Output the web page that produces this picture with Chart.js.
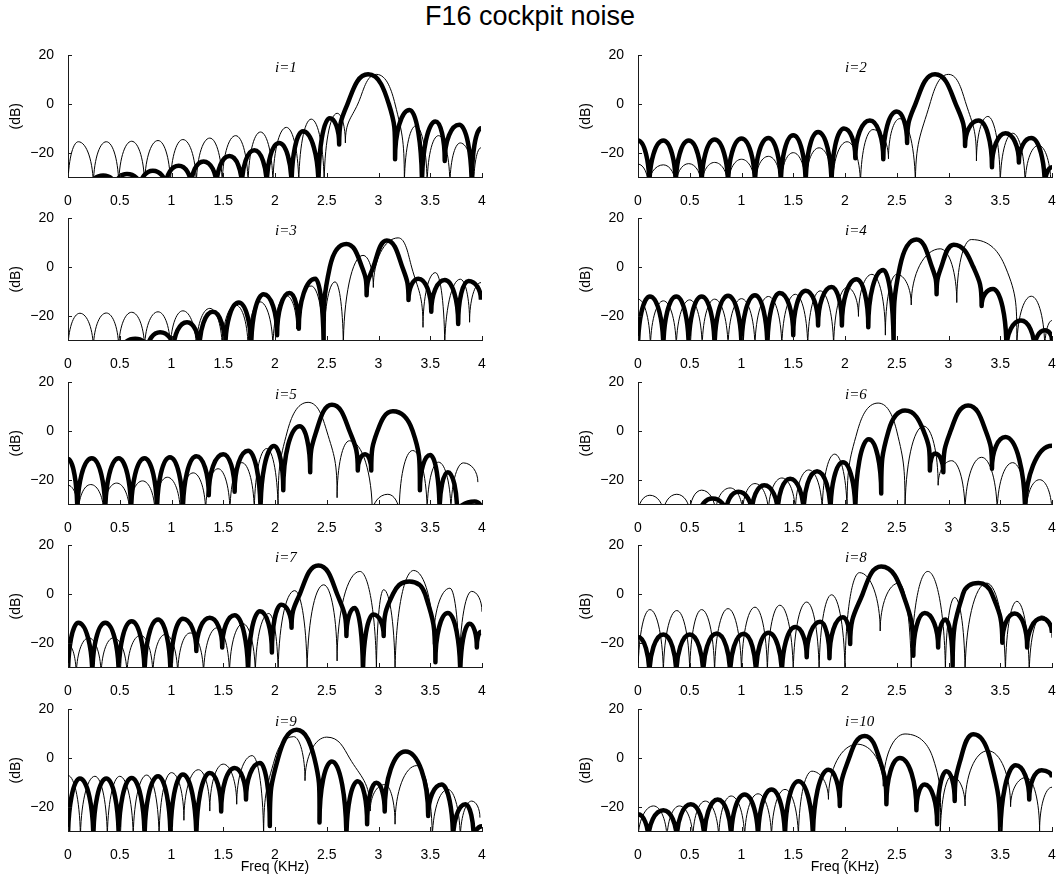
<!DOCTYPE html>
<html><head><meta charset="utf-8">
<script src="https://cdn.jsdelivr.net/npm/chart.js@4.4.1/dist/chart.umd.min.js"></script>
<style>
html,body{margin:0;padding:0;background:#fff;}
body{width:1060px;height:879px;position:relative;overflow:hidden;font-family:"Liberation Sans",Arial,Helvetica,sans-serif;}
#title{position:absolute;left:0;width:1060px;top:1px;text-align:center;font-size:27px;line-height:31px;color:#000;}
canvas{position:absolute;}
</style></head><body>
<div id="title">F16 cockpit noise</div>
<script>
// ---------- data (frequency in kHz, level in dB) ----------
const X_TICKS = [0, 0.5, 1, 1.5, 2, 2.5, 3, 3.5, 4];
const Y_TICKS = [-20, 0, 20];
const PANEL_LABELS = ['i=1','i=2','i=3','i=4','i=5','i=6','i=7','i=8','i=9','i=10'];

const thin1 = [[0,-34],[0.10,-15.5],[0.245,-34],[0.37,-15.5],[0.49,-34],[0.615,-15.3],[0.74,-34],[0.87,-15],[0.99,-34],[1.11,-14.6],[1.24,-34],[1.37,-14],[1.49,-34],[1.62,-13],[1.74,-34],[1.86,-11.5],[1.98,-34],[2.11,-9.6],[2.23,-34],[2.35,-6.2],[2.475,-34],[2.60,-3.8],[2.68,-16],[2.80,0],[2.98,12.2],[3.16,0],[3.25,-34],[3.36,-9],[3.47,-34],[3.58,-13],[3.69,-34],[3.79,-16],[3.92,-34],[3.99,-18]];
const thick1 = [[0.22,-34],[0.34,-29.4],[0.46,-34],[0.57,-28.8],[0.70,-34],[0.82,-27.4],[0.945,-34],[1.07,-25.4],[1.19,-34],[1.31,-23.6],[1.435,-34],[1.56,-21.4],[1.68,-34],[1.80,-19],[1.92,-34],[2.04,-16],[2.16,-34],[2.27,-11.2],[2.42,-34],[2.53,-5.8],[2.62,-16.6],[2.70,0],[2.90,12.2],[3.10,0],[3.16,-22.7],[3.30,-2.4],[3.42,-34],[3.55,-7.2],[3.64,-23.4],[3.78,-8.5],[3.90,-34],[3.99,-10]];

const thin2 = [[0,-24.7],[0.1,-34],[0.245,-25],[0.365,-34],[0.49,-24.5],[0.615,-34],[0.74,-24],[0.87,-34],[1.0,-22.7],[1.13,-34],[1.26,-21.5],[1.38,-34],[1.50,-20],[1.62,-34],[1.75,-18],[1.88,-34],[2.02,-15.5],[2.15,-34],[2.27,-10.5],[2.42,-22.5],[2.53,-6],[2.68,-34],[2.82,0],[3.0,12.2],[3.17,0],[3.27,-23.4],[3.38,-5.1],[3.50,-34],[3.62,-12],[3.74,-34],[3.87,-17],[3.99,-34]];
const thick2 = [[0,-15],[0.11,-34],[0.245,-15],[0.365,-34],[0.49,-15],[0.615,-34],[0.74,-14.6],[0.87,-34],[1.0,-14.2],[1.13,-34],[1.26,-14],[1.38,-34],[1.50,-12.8],[1.62,-34],[1.74,-11.5],[1.87,-34],[1.99,-10.1],[2.10,-22.3],[2.24,-6.8],[2.37,-22.7],[2.50,-3.1],[2.60,-16],[2.68,0],[2.87,12.2],[3.07,0],[3.16,-17.3],[3.29,-6.8],[3.42,-26],[3.55,-12],[3.68,-24],[3.80,-14],[3.93,-34],[4.0,-26]];

const thin3 = [[0,-34],[0.115,-19],[0.245,-34],[0.37,-18.9],[0.49,-34],[0.615,-18.6],[0.74,-34],[0.87,-18.4],[0.99,-34],[1.11,-18],[1.24,-34],[1.37,-17],[1.49,-34],[1.62,-15.6],[1.74,-34],[1.855,-14.3],[1.98,-34],[2.11,-11.8],[2.21,-25.4],[2.35,-7.8],[2.47,-34],[2.58,-6.1],[2.66,-34],[2.85,4.8],[2.95,-8.4],[3.19,12],[3.32,0],[3.43,-24.8],[3.55,-2.3],[3.64,-34],[3.79,-5],[3.88,-22.7],[3.99,-6.4]];
const thick3 = [[0.52,-34],[0.65,-29.5],[0.77,-34],[0.89,-26.8],[1.02,-34],[1.15,-22.7],[1.27,-34],[1.40,-18.4],[1.52,-34],[1.65,-14.6],[1.77,-34],[1.89,-11.2],[2.02,-28],[2.14,-10.7],[2.23,-25.4],[2.39,-4.8],[2.47,-34],[2.53,0],[2.69,9.5],[2.84,0],[2.885,-11.6],[2.95,0],[3.08,10.9],[3.23,0],[3.29,-13.6],[3.385,-4.8],[3.51,-18.4],[3.64,-5.3],[3.77,-23.4],[3.87,-5.7],[3.99,-13.5]];

const thin4 = [[0,-13.2],[0.12,-34],[0.245,-13.9],[0.37,-34],[0.5,-13.5],[0.62,-34],[0.74,-13.2],[0.87,-34],[1.0,-13],[1.13,-34],[1.26,-12.1],[1.39,-34],[1.52,-11.2],[1.64,-34],[1.76,-9.8],[1.89,-34],[2.02,-8.4],[2.13,-20.3],[2.26,-3],[2.39,-28],[2.50,-3],[2.64,-15.6],[2.92,7.5],[3.08,-14.6],[3.22,11.3],[3.55,0],[3.66,-34],[3.80,-12],[3.93,-34],[4.0,-22]];
const thick4 = [[0,-34],[0.115,-12.1],[0.245,-34],[0.37,-12.1],[0.49,-34],[0.615,-12.1],[0.74,-34],[0.87,-11.8],[1.0,-34],[1.13,-11.6],[1.25,-34],[1.37,-10.7],[1.50,-28],[1.62,-9.8],[1.74,-24],[1.87,-8.2],[1.97,-24],[2.11,-5],[2.225,-24.8],[2.37,-1.2],[2.47,-34],[2.53,0],[2.69,11.3],[2.84,0],[2.885,-11.2],[2.93,0],[3.05,9.2],[3.24,0],[3.32,-16],[3.43,-9],[3.56,-34],[3.70,-22],[3.83,-34],[3.93,-26],[4.0,-30]];

const thin5 = [[0,-22.3],[0.1,-34],[0.22,-22],[0.345,-34],[0.47,-21.4],[0.595,-34],[0.72,-20.5],[0.84,-34],[0.96,-19],[1.085,-34],[1.21,-17.2],[1.33,-34],[1.45,-15.5],[1.565,-34],[1.68,-13],[1.80,-34],[1.92,-7.2],[2.03,-34],[2.12,0],[2.32,11.8],[2.50,0],[2.60,-27.4],[2.72,-4],[2.94,-34],[3.09,-26],[3.20,-34],[3.33,-8],[3.47,-34],[3.58,-12.8],[3.70,-34],[3.82,-13.1],[3.96,-21]];
const thick5 = [[0,-11.5],[0.09,-34],[0.23,-11.2],[0.36,-34],[0.49,-11.2],[0.61,-34],[0.74,-11.2],[0.86,-34],[0.985,-10.8],[1.11,-34],[1.24,-10.4],[1.36,-26.4],[1.50,-9.5],[1.61,-25],[1.74,-8.1],[1.86,-34],[1.99,-6.2],[2.08,-24.3],[2.24,2],[2.34,-16.9],[2.40,0],[2.55,10.8],[2.72,0],[2.80,-16.2],[2.87,-9.5],[2.93,-16.2],[2.99,0],[3.14,8.1],[3.33,0],[3.40,-24.3],[3.50,-9.9],[3.59,-34],[3.67,-16.9],[3.76,-34],[3.93,-29],[4.0,-33]];

const thin6 = [[0,-34],[0.115,-26.4],[0.245,-34],[0.375,-26],[0.50,-34],[0.615,-24.3],[0.75,-34],[0.89,-23.4],[1.01,-34],[1.13,-21.6],[1.26,-34],[1.39,-19.3],[1.52,-34],[1.65,-16],[1.78,-34],[1.90,-9.5],[2.02,-34],[2.12,0],[2.32,11.5],[2.50,0],[2.58,-34],[2.76,2],[2.90,-22.3],[3.03,-12.2],[3.16,-34],[3.32,-10.8],[3.47,-34],[3.62,-13],[3.75,-34],[3.88,-20],[4.0,-34]];
const thick6 = [[0.6,-34],[0.72,-27.7],[0.85,-34],[0.97,-25],[1.10,-34],[1.22,-22.3],[1.35,-34],[1.47,-19.6],[1.60,-34],[1.73,-16.5],[1.86,-34],[1.98,-12.8],[2.10,-34],[2.23,-3.4],[2.35,-25.7],[2.42,0],[2.58,8.4],[2.76,0],[2.82,-16.2],[2.87,-9.2],[2.95,-16.9],[3.02,0],[3.19,10.5],[3.36,0],[3.42,-15.5],[3.55,-2.5],[3.74,-34],[4.0,-6]];

const thin7 = [[0,-20.7],[0.08,-34],[0.2,-18],[0.32,-34],[0.44,-18],[0.57,-34],[0.70,-17],[0.82,-34],[0.94,-16.6],[1.06,-34],[1.18,-16],[1.31,-34],[1.44,-13.9],[1.56,-34],[1.69,-12.2],[1.81,-34],[1.94,-8],[2.03,-34],[2.19,1.4],[2.31,-34],[2.47,3.8],[2.60,-27.5],[2.82,9.3],[2.98,-34],[3.05,1.8],[3.16,-34],[3.34,9.7],[3.53,-20.7],[3.69,2.4],[3.78,-34],[3.90,1.1],[4.0,-7.3]];
const thick7 = [[0,-34],[0.10,-11.8],[0.235,-34],[0.36,-11.8],[0.49,-34],[0.615,-11.2],[0.74,-34],[0.87,-10.5],[0.99,-34],[1.11,-10.2],[1.24,-23.4],[1.37,-9.8],[1.49,-22],[1.61,-8.7],[1.74,-34],[1.855,-7.1],[1.97,-24],[2.06,-4.4],[2.16,-13.9],[2.24,0],[2.42,11.7],[2.60,0],[2.69,-17.3],[2.77,-5.7],[2.85,-34],[2.95,-8.4],[3.05,-17.3],[3.14,0],[3.30,5.2],[3.45,0],[3.55,-28],[3.67,-7.8],[3.79,-34],[3.88,-12.2],[3.95,-22],[3.99,-15.5]];

const thin8 = [[0,-34],[0.115,-6.4],[0.245,-34],[0.375,-6.8],[0.50,-34],[0.615,-6.4],[0.74,-34],[0.87,-6],[1.0,-34],[1.13,-5.4],[1.25,-34],[1.37,-4.6],[1.50,-34],[1.63,-3.3],[1.75,-34],[1.87,-0.3],[2.0,-34],[2.14,8.8],[2.34,-15.2],[2.52,4.5],[2.64,-34],[2.80,9.3],[2.97,-34],[3.06,-1.4],[3.16,-34],[3.37,4.5],[3.55,-34],[3.66,-3],[3.78,-34],[3.90,-9],[4.0,-18]];
const thick8 = [[0,-17.7],[0.11,-34],[0.245,-16.6],[0.37,-34],[0.5,-16.6],[0.63,-34],[0.76,-16.2],[0.89,-34],[1.02,-16.3],[1.14,-34],[1.26,-15.9],[1.39,-34],[1.52,-13.6],[1.63,-26],[1.76,-11.4],[1.85,-26.4],[1.98,-9.5],[2.05,-20.5],[2.17,0],[2.35,11.3],[2.56,0],[2.66,-25.4],[2.77,-7.8],[2.90,-22],[2.97,-10.5],[3.04,-29.5],[3.14,0],[3.29,4.5],[3.42,0],[3.52,-20],[3.64,-8],[3.76,-22],[3.90,-10],[4.0,-16]];

const thin9 = [[0,-7.2],[0.12,-34],[0.26,-7.5],[0.38,-34],[0.50,-7.5],[0.63,-34],[0.76,-7],[0.88,-34],[1.0,-6],[1.12,-25.6],[1.26,-4.8],[1.37,-21.8],[1.50,-2.5],[1.63,-19],[1.78,1.0],[1.89,-34],[2.0,0],[2.18,8.8],[2.29,-9.3],[2.50,8.6],[2.72,0],[2.92,-21.8],[3.06,-10.9],[3.16,-27.2],[3.37,-3.1],[3.52,-34],[3.67,-12.9],[3.79,-34],[3.90,-17.7],[3.98,-24.5]];
const thick9 = [[0,-34],[0.115,-8.4],[0.245,-34],[0.37,-8.4],[0.49,-34],[0.615,-8.2],[0.74,-34],[0.87,-7.5],[0.99,-34],[1.11,-6.8],[1.24,-34],[1.37,-6.1],[1.48,-22],[1.61,-4.1],[1.72,-17],[1.855,-2],[1.95,-27.9],[2.03,0],[2.21,11.6],[2.38,0],[2.43,-26.5],[2.55,-1.4],[2.69,-34],[2.80,-9.5],[2.89,-27.2],[2.98,-10.2],[3.06,-22],[3.26,2.7],[3.48,-23.8],[3.61,-10.9],[3.72,-34],[3.84,-19],[3.92,-34],[4.0,-28]];

const thin10 = [[0,-34],[0.15,-19.7],[0.28,-34],[0.40,-19.7],[0.53,-34],[0.65,-17.7],[0.78,-34],[0.90,-15.6],[1.03,-34],[1.16,-14.7],[1.29,-34],[1.42,-12.9],[1.55,-34],[1.68,-5.4],[1.84,-17],[2.12,5.7],[2.37,-11.6],[2.58,9.9],[2.85,0],[2.92,-34],[3.03,-7.5],[3.16,-19.7],[3.38,3],[3.60,-20],[3.75,-8],[3.88,-30],[4.0,-12]];
const thick10 = [[0,-23.1],[0.1,-34],[0.245,-21.5],[0.375,-34],[0.51,-19],[0.64,-34],[0.77,-17],[0.90,-34],[1.03,-15],[1.16,-34],[1.29,-12.9],[1.42,-34],[1.55,-9.5],[1.69,-34],[1.84,-4.8],[1.95,-19.7],[2.04,0],[2.19,9.1],[2.33,0],[2.40,-19],[2.53,0],[2.69,-21.5],[2.77,-10.9],[2.89,-27.2],[2.98,-5.4],[3.06,-17.7],[3.12,0],[3.24,9.8],[3.40,0],[3.50,-34],[3.65,-3],[3.78,-17],[3.90,-5],[4.0,-8]];

const THIN = [thin1,thin2,thin3,thin4,thin5,thin6,thin7,thin8,thin9,thin10];
const THICK = [thick1,thick2,thick3,thick4,thick5,thick6,thick7,thick8,thick9,thick10];

// ---------- layout ----------
const COL_LEFT = [68, 638];
const ROW_TOP = [53, 216, 380, 543, 707];
const PLOT_W = 414, PLOT_H = 124;
const Y_AXIS_W = 64, PAD_TOP = 12, PAD_RIGHT = 14;
const FONT = '"Liberation Sans", Arial, Helvetica, sans-serif';
const AXIS = '#1a1a1a';
const K = 0.552; // quarter-ellipse handle ratio for the lobe arches

function toPoints(arr) { return arr.map(p => ({x: p[0], y: p[1]})); }

// Lobe shaping: vertical tangents at nulls (sharp cusps), horizontal tangents at peaks.
function shapeLobes(points) {
  const n = points.length;
  for (let i = 0; i < n; i++) {
    const p = points[i], a = points[i - 1], b = points[i + 1];
    if (!p || p.skip) continue;
    const low = (!a || p.y > a.y) && (!b || p.y > b.y) && (a || b);
    const high = (!a || p.y < a.y) && (!b || p.y < b.y) && (a || b);
    if (low) {
      if (a) { p.cp1x = p.x; p.cp1y = p.y - K * (p.y - a.y); }
      if (b) { p.cp2x = p.x; p.cp2y = p.y - K * (p.y - b.y); }
    } else if (high) {
      if (a) { p.cp1x = p.x - K * (p.x - a.x); p.cp1y = p.y; }
      if (b) { p.cp2x = p.x + K * (b.x - p.x); p.cp2y = p.y; }
    }
  }
}

const lobeShape = {
  id: 'lobeShape',
  beforeDatasetDraw(chart, args) {
    const el = args.meta.dataset;
    if (!el) return;
    if (!el._lobePatched) {
      const orig = el.updateControlPoints;
      el.updateControlPoints = function (area, axis) { orig.call(this, area, axis); shapeLobes(this.points); };
      el._lobePatched = true;
    }
    el.updateControlPoints(chart.chartArea, args.meta.iScale.axis);
    el._path = undefined;
  }
};

const inwardTicks = {
  id: 'inwardTicks',
  afterDatasetsDraw(chart) {
    const {ctx, chartArea: a, scales: {x, y}} = chart;
    ctx.save();
    ctx.strokeStyle = AXIS; ctx.lineWidth = 1;
    ctx.beginPath();
    X_TICKS.forEach(v => { const px = Math.round(x.getPixelForValue(v)) + 0.5; ctx.moveTo(px, a.bottom); ctx.lineTo(px, a.bottom - 4); });
    Y_TICKS.forEach(v => { const py = Math.round(y.getPixelForValue(v)) + 0.5; ctx.moveTo(a.left, py); ctx.lineTo(a.left + 4, py); });
    ctx.stroke();
    ctx.restore();
  }
};

const panelLabel = {
  id: 'panelLabel',
  afterDatasetsDraw(chart, args, opts) {
    const {ctx, scales: {x, y}} = chart;
    ctx.save();
    ctx.font = 'italic 15px "Liberation Serif", "Times New Roman", serif';
    ctx.fillStyle = '#000';
    ctx.textAlign = 'left';
    ctx.textBaseline = 'middle';
    ctx.fillText(opts.text, x.getPixelForValue(2.0), y.getPixelForValue(14.7));
    ctx.restore();
  }
};

PANEL_LABELS.forEach((label, k) => {
  const row = Math.floor(k / 2), col = k % 2;
  const last = row === 4;
  const xAxisH = last ? 50 : 30;
  const cv = document.createElement('canvas');
  const W = Y_AXIS_W + PLOT_W + PAD_RIGHT;
  const H = PAD_TOP + PLOT_H + xAxisH;
  cv.width = W; cv.height = H;
  cv.style.width = W + 'px'; cv.style.height = H + 'px';
  cv.style.left = (COL_LEFT[col] - Y_AXIS_W) + 'px';
  cv.style.top = (ROW_TOP[row] - PAD_TOP) + 'px';
  document.body.appendChild(cv);

  new Chart(cv, {
    type: 'line',
    data: {
      datasets: [
        {data: toPoints(THIN[k]), borderColor: '#000', borderWidth: 1, tension: 0.4, pointRadius: 0, fill: false, clip: 0},
        {data: toPoints(THICK[k]), borderColor: '#000', borderWidth: 4.5, tension: 0.4, pointRadius: 0, fill: false, clip: 0}
      ]
    },
    options: {
      responsive: false, animation: false, events: [], devicePixelRatio: 1,
      layout: {padding: {top: PAD_TOP, right: PAD_RIGHT, left: 0, bottom: 0}},
      elements: {line: {capBezierPoints: false, borderJoinStyle: 'round', borderCapStyle: 'butt'}, point: {radius: 0}},
      plugins: {legend: {display: false}, tooltip: {enabled: false}, panelLabel: {text: label}},
      scales: {
        x: {
          type: 'linear', min: 0, max: 4,
          afterBuildTicks: s => { s.ticks = X_TICKS.map(v => ({value: v})); },
          afterFit: s => { s.height = xAxisH; },
          grid: {display: false},
          border: {display: true, color: AXIS, width: 1},
          ticks: {padding: 8, color: '#000', font: {family: FONT, size: 14}, maxRotation: 0, autoSkip: false, callback: v => String(v)},
          title: {display: last, text: 'Freq (KHz)', color: '#000', font: {family: FONT, size: 14}, padding: {top: 0, bottom: 5}}
        },
        y: {
          type: 'linear', min: -30, max: 20,
          afterBuildTicks: s => { s.ticks = Y_TICKS.map(v => ({value: v})); },
          afterFit: s => { s.width = Y_AXIS_W; },
          grid: {display: false},
          border: {display: true, color: AXIS, width: 1},
          ticks: {padding: 6, color: '#000', font: {family: FONT, size: 14}, callback: v => v < 0 ? '\u2212' + Math.abs(v) : String(v)},
          title: {display: true, text: '(dB)', color: '#000', font: {family: FONT, size: 14}, padding: {top: 4, bottom: 0}}
        }
      }
    },
    plugins: [lobeShape, inwardTicks, panelLabel]
  });
});
</script>
</body></html>
